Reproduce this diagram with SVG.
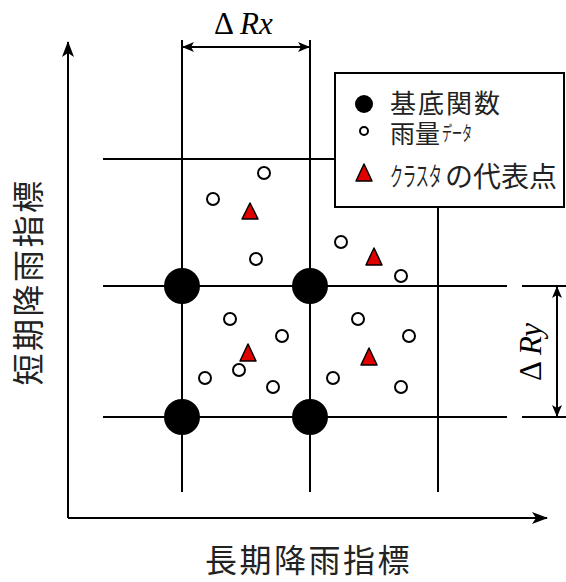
<svg xmlns="http://www.w3.org/2000/svg" width="566" height="582" viewBox="0 0 566 582">
<style>
.ln{stroke:#000;stroke-width:2;fill:none}
.big{fill:#000}
.dat{fill:#fff;stroke:#000;stroke-width:2}
.tri{fill:#e00000;stroke:#000;stroke-width:1.5;stroke-linejoin:round}
.jp{font-family:"Liberation Serif","Noto Sans CJK JP",serif;fill:#222}
.lab{font-family:"Noto Sans CJK JP",sans-serif;fill:#222;font-size:32px;letter-spacing:2.5px}
.mth{font-family:"Liberation Serif",serif;fill:#000;font-size:31px}
</style>
<defs>
<marker id="ah" viewBox="0 0 12 10" refX="11" refY="5" markerWidth="12" markerHeight="10" markerUnits="userSpaceOnUse" orient="auto-start-reverse">
<path d="M0,0 L12,5 L0,10 L3,5 Z" fill="#000"/>
</marker>
<marker id="ax" viewBox="0 0 16 12" refX="15" refY="6" markerWidth="16" markerHeight="12" markerUnits="userSpaceOnUse" orient="auto">
<path d="M0,0 L16,6 L0,12 L4,6 Z" fill="#000"/>
</marker>
</defs>
<rect width="566" height="582" fill="#fff"/>
<g id="connectors">
<line class="ln" x1="68" y1="518" x2="68" y2="42" marker-end="url(#ax)"/>
<line class="ln" x1="68" y1="518" x2="547" y2="518" marker-end="url(#ax)"/>
<line class="ln" x1="182" y1="40" x2="182" y2="492"/>
<line class="ln" x1="310" y1="40" x2="310" y2="492"/>
<line class="ln" x1="438" y1="207" x2="438" y2="492"/>
<line class="ln" x1="103" y1="159" x2="335" y2="159"/>
<line class="ln" x1="103" y1="286" x2="507" y2="286"/>
<line class="ln" x1="103" y1="417" x2="507" y2="417"/>
<line class="ln" x1="522" y1="286" x2="566" y2="286"/>
<line class="ln" x1="522" y1="417" x2="566" y2="417"/>
<line class="ln" x1="183" y1="47" x2="309" y2="47" marker-start="url(#ah)" marker-end="url(#ah)"/>
<line class="ln" x1="557" y1="287" x2="557" y2="416" marker-start="url(#ah)" marker-end="url(#ah)"/>
</g>
<g id="legend">
<rect x="335" y="73" width="229" height="134" fill="#fff" stroke="#000" stroke-width="2"/>
<circle class="big" cx="364" cy="104" r="9"/>
<circle class="dat" cx="364" cy="131" r="4"/>
<path class="tri" d="M364,164 L372,181 L356,181 Z"/>
<text class="jp" x="390" y="113" font-size="26" letter-spacing="2">基底関数</text>
<text class="jp" x="390" y="143" font-size="25">雨量</text>
<text class="jp" font-size="20" transform="translate(442,141) scale(0.5,1)">データ</text>
<text class="jp" font-size="26" transform="translate(390,186) scale(0.5,1)">クラスタ</text>
<text class="jp" x="445" y="187" font-size="28">の代表点</text>
</g>
<g id="basis">
<circle class="big" cx="182" cy="286" r="18"/>
<circle class="big" cx="310" cy="286" r="18"/>
<circle class="big" cx="182" cy="417" r="18"/>
<circle class="big" cx="310" cy="417" r="18"/>
</g>
<g id="data">
<circle class="dat" cx="264" cy="173" r="6"/>
<circle class="dat" cx="213" cy="199" r="6"/>
<circle class="dat" cx="256" cy="259" r="6"/>
<circle class="dat" cx="341" cy="242" r="6"/>
<circle class="dat" cx="401" cy="276" r="6"/>
<circle class="dat" cx="230" cy="319" r="6"/>
<circle class="dat" cx="282" cy="336" r="6"/>
<circle class="dat" cx="358" cy="319" r="6"/>
<circle class="dat" cx="409" cy="336" r="6"/>
<circle class="dat" cx="205" cy="378" r="6"/>
<circle class="dat" cx="239" cy="370" r="6"/>
<circle class="dat" cx="273" cy="387" r="6"/>
<circle class="dat" cx="333" cy="378" r="6"/>
<circle class="dat" cx="401" cy="387" r="6"/>
</g>
<g id="clusters">
<path class="tri" d="M250,203 L258,219 L242,219 Z"/>
<path class="tri" d="M374,248 L382,265 L366,265 Z"/>
<path class="tri" d="M248,344 L256,361 L240,361 Z"/>
<path class="tri" d="M369,348 L377,365 L361,365 Z"/>
</g>
<g id="labels">
<text class="mth" x="214" y="34">Δ <tspan font-style="italic">Rx</tspan></text>
<text class="mth" transform="translate(541,352) rotate(-90)" text-anchor="middle">Δ <tspan font-style="italic">Ry</tspan></text>
<text class="lab" x="205" y="572">長期降雨指標</text>
<text class="lab" transform="translate(40,282) rotate(-90)" text-anchor="middle">短期降雨指標</text>
</g>
</svg>
